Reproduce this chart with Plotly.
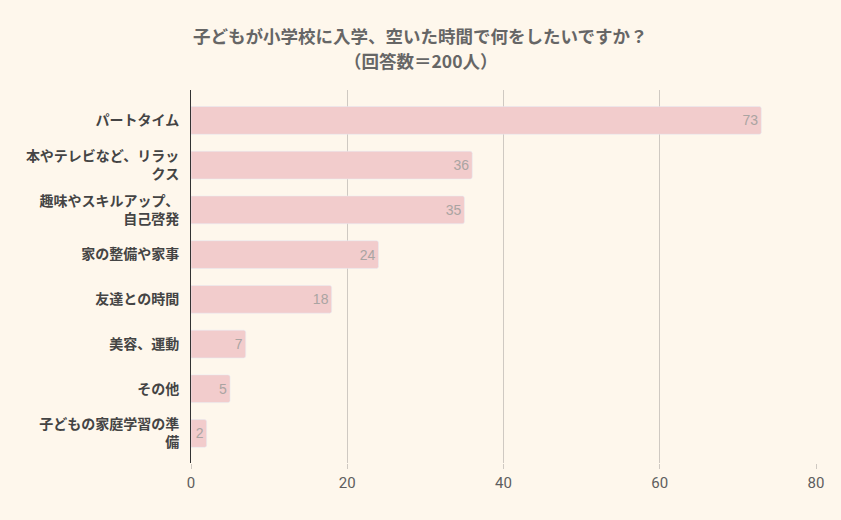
import plotly.graph_objects as go

categories = ["パートタイム", "本やテレビなど、リラッ<br>クス", "趣味やスキルアップ、<br>自己啓発",
              "家の整備や家事", "友達との時間", "美容、運動", "その他", "子どもの家庭学習の準<br>備"]
values = [73, 36, 35, 24, 18, 7, 5, 2]
title_lines = ["子どもが小学校に入学、空いた時間で何をしたいですか？", "（回答数＝200人）"]

font = "Noto Sans CJK JP"
H = 520
fig = go.Figure(go.Bar(
    y=categories, x=values, orientation="h",
    marker=dict(color="#f2cccc", cornerradius=2),
    width=0.62,
    text=[str(v) for v in values], textposition="inside", insidetextanchor="end",
    textfont=dict(color="#aaa4a2", size=14, family="Liberation Sans"),
    cliponaxis=False,
))
for line, ypx in zip(title_lines, [36, 61]):
    fig.add_annotation(text="<b>" + line + "</b>", xref="paper", yref="paper",
                       x=(420 - 191) / (841 - 191 - 25), y=1 + (90 - ypx) / (H - 90 - 57),
                       xanchor="center", yanchor="middle", showarrow=False,
                       font=dict(family=font, size=17.5, color="#666666"))
fig.update_layout(
    width=841, height=H,
    paper_bgcolor="#fef7ec", plot_bgcolor="#fef7ec",
    margin=dict(l=191, r=25, t=90, b=57),
    showlegend=False,
)
fig.update_xaxes(range=[0, 80], tickvals=[0, 20, 40, 60, 80], showgrid=True, gridcolor="#cfc9c2",
                 gridwidth=1, zeroline=False, ticks="outside", ticklen=5, tickcolor="#cfc9c2",
                 tickfont=dict(family="Roboto", size=15, color="#5e5e5e"), showline=False,
                 ticklabelstandoff=1)
fig.update_yaxes(autorange=False, range=[7.66, -0.68], showline=True, linecolor="#333333", linewidth=1,
                 tickfont=dict(family=font, size=14, color="#444444"), ticks="", ticklabelstandoff=8,
                 tickvals=categories, ticktext=["<b>" + c.replace("<br>", "</b><br><b>") + "</b>" for c in categories])
fig.write_html("out.html")
